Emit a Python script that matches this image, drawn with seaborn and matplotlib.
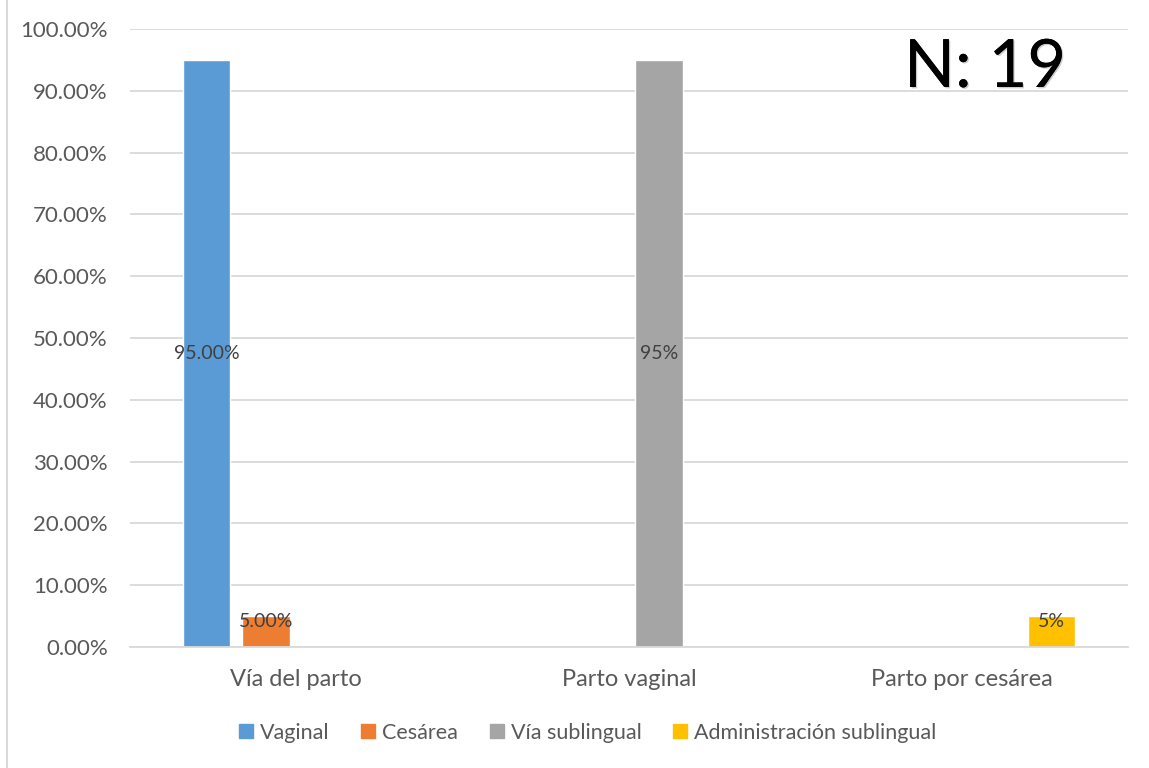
import matplotlib
matplotlib.use("Agg")
import matplotlib.pyplot as plt
import matplotlib.patheffects as pe
from matplotlib.ticker import PercentFormatter
from matplotlib.lines import Line2D
import seaborn as sns
import pandas as pd

categories = ["Vía del parto", "Parto vaginal", "Parto por cesárea"]
series = ["Vaginal", "Cesárea", "Vía sublingual", "Administración sublingual"]
values = {
    "Vaginal": [0.95, None, None],
    "Cesárea": [0.05, None, None],
    "Vía sublingual": [None, 0.95, None],
    "Administración sublingual": [None, None, 0.05],
}
label_formats = {
    "Vaginal": "{:.2%}",
    "Cesárea": "{:.2%}",
    "Vía sublingual": "{:.0%}",
    "Administración sublingual": "{:.0%}",
}
colors = ["#5B9BD5", "#ED7D31", "#A5A5A5", "#FFC000"]
y_ticks = [i / 10 for i in range(11)]
sample_note = "N: 19"

rows = []
for s in series:
    for c, v in zip(categories, values[s]):
        rows.append({"categoria": c, "serie": s, "valor": v if v is not None else 0.0})
df = pd.DataFrame(rows)

sns.set_theme(style="white")
plt.rcParams["font.family"] = ["Lato", "DejaVu Sans"]

fig = plt.figure(figsize=(11.49, 7.68), dpi=100)
ax = fig.add_axes([130 / 1149, 1 - 647 / 768, 998 / 1149, 618 / 768])

sns.barplot(data=df, x="categoria", y="valor", hue="serie", order=categories,
            hue_order=series, palette=colors, width=0.72, gap=0.2,
            saturation=1, errorbar=None, legend=False, ax=ax)

ax.set_ylim(0, 1)
ax.set_yticks(y_ticks)
ax.yaxis.set_major_formatter(PercentFormatter(1.0, decimals=2))
ax.grid(axis="y", color="#d9d9d9", linewidth=1.3)
ax.set_axisbelow(True)
for side in ["top", "right", "left"]:
    ax.spines[side].set_visible(False)
ax.spines["bottom"].set_color("#d9d9d9")
ax.spines["bottom"].set_linewidth(1.3)
ax.tick_params(axis="both", length=0, labelcolor="#595959")
ax.tick_params(axis="y", pad=16, labelsize=16)
ax.tick_params(axis="x", pad=16, labelsize=17)
ax.set_xlabel("")
ax.set_ylabel("")

# value labels, centred in each non-empty bar
for container, s in zip(ax.containers, series):
    for patch, v in zip(container.patches, values[s]):
        if v is None:
            continue
        xc = patch.get_x() + patch.get_width() / 2
        yc = max(v / 2, 0.042)
        ax.text(xc, yc, label_formats[s].format(v), ha="center", va="center",
                fontsize=14, color="#404040")

handles = [Line2D([0], [0], marker="s", linestyle="", markersize=10,
                  markerfacecolor=c, markeredgecolor=c) for c in colors]
fig.legend(handles, series, loc="center", bbox_to_anchor=(587 / 1149, 1 - 733 / 768),
           ncol=4, frameon=False, fontsize=15.5, labelcolor="#595959",
           handletextpad=0.25, columnspacing=1.4, handlelength=0.8)

fig.text(985 / 1149, 1 - 68 / 768, sample_note, ha="center", va="center",
         fontsize=48, color="black",
         path_effects=[pe.withSimplePatchShadow(offset=(1, -1), alpha=0.2),
                       pe.Normal()])

# thin chart-area border on the left
fig.add_artist(Line2D([7 / 1149, 7 / 1149], [0, 1], transform=fig.transFigure,
                      color="#d9d9d9", linewidth=1.5))

fig.savefig("out.png", dpi=100)
